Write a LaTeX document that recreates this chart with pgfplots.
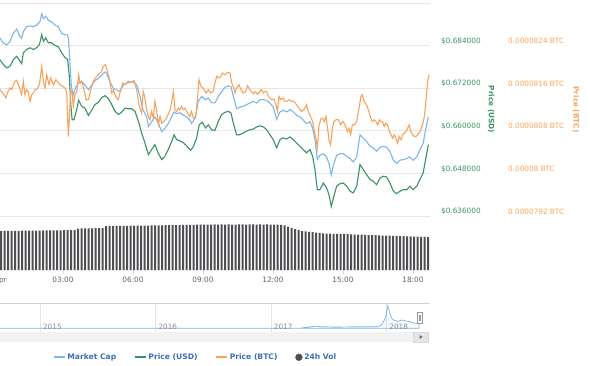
\documentclass[border=0pt]{standalone}
\usepackage{fontspec}
\setmainfont{DejaVu Sans}
\usepackage{pgfplots}
\pgfplotsset{compat=1.18}
\definecolor{mcblue}{HTML}{7CB5EC}
\definecolor{usdgreen}{HTML}{3A9262}
\definecolor{btcorange}{HTML}{F7A35C}
\definecolor{volgray}{HTML}{4E4E53}
\definecolor{gridgray}{HTML}{E6E6E6}
\definecolor{labelgray}{HTML}{606060}
\definecolor{yeargray}{HTML}{8A8A8A}
\definecolor{legendblue}{HTML}{3D6DB5}
\definecolor{tickgray}{HTML}{CCD6EB}
\newcommand\tickfont{\fontsize{7.3}{8.5}\selectfont}
\begin{document}
\begin{tikzpicture}[x=1pt,y=1pt]
\useasboundingbox (0,0) rectangle (590,365);

% ---------- volume (24h Vol) with time axis ----------
\begin{axis}[
  at={(0pt,95pt)}, anchor=south west, scale only axis,
  width=430pt, height=267pt,
  xmin=0.3, xmax=18.73, ymin=0, ymax=5874,
  axis line style={draw=none}, ytick=\empty,
  xtick={3,6,9,12,15,18},
  xticklabels={03:00,06:00,09:00,12:00,15:00,18:00},
  xtick pos=left,
  tick align=outside, major tick length=4pt,
  xtick style={draw=tickgray, line width=0.6pt},
  xticklabel style={font=\tickfont, text=labelgray, inner sep=0pt, anchor=north, yshift=-3pt},
  clip=false,
]
\addplot[ybar, bar width=2.0pt, fill=volgray, draw=none] table {
0.35 858
0.50 860
0.65 859
0.80 861
0.95 862
1.10 861
1.25 864
1.40 865
1.55 864
1.70 867
1.85 868
2.00 867
2.15 870
2.30 871
2.45 870
2.60 873
2.75 874
2.90 873
3.05 876
3.20 877
3.35 878
3.50 880
3.65 913
3.80 915
3.95 914
4.10 917
4.25 918
4.40 920
4.55 922
4.70 924
4.85 968
5.00 969
5.15 968
5.30 970
5.45 971
5.60 972
5.75 972
5.90 974
6.05 975
6.20 975
6.35 977
6.50 978
6.65 979
6.80 980
6.95 981
7.10 983
7.25 984
7.40 985
7.55 987
7.70 988
7.85 989
8.00 990
8.15 991
8.30 993
8.45 994
8.60 995
8.75 996
8.90 998
9.05 999
9.20 1000
9.35 1001
9.50 1002
9.65 1001
9.80 1003
9.95 1001
10.10 1002
10.25 1000
10.40 1001
10.55 1003
10.70 1002
10.85 1001
11.00 1002
11.15 1003
11.30 1001
11.45 1002
11.60 1001
11.75 1002
11.90 1001
12.05 1000
12.20 999
12.35 995
12.50 981
12.65 955
12.80 928
12.95 902
13.10 876
13.25 856
13.40 849
13.55 841
13.70 833
13.85 824
14.00 815
14.15 807
14.30 803
14.45 800
14.60 797
14.75 795
14.90 792
15.05 789
15.20 787
15.35 784
15.50 781
15.65 778
15.80 776
15.95 773
16.10 770
16.25 767
16.40 765
16.55 762
16.70 759
16.85 757
17.00 754
17.15 752
17.30 749
17.45 747
17.60 744
17.75 742
17.90 739
18.05 737
18.20 734
18.35 731
18.50 729
18.65 726
};
\node[font=\tickfont, text=labelgray, inner sep=0pt, anchor=north] at (axis cs:0,0) [yshift=-7pt] {14. Apr};
\end{axis}

% ---------- Price (USD) axis: grid, labels, green line ----------
\begin{axis}[
  at={(0pt,149pt)}, anchor=south west, scale only axis,
  width=430pt, height=213pt,
  xmin=0.3, xmax=18.73, ymin=0.636, ymax=0.696,
  xtick=\empty,
  ytick={0.636,0.648,0.660,0.672,0.684,0.696},
  yticklabels={\$0.636000,\$0.648000,\$0.660000,\$0.672000,\$0.684000,},
  ymajorgrids, grid style={gridgray, line width=0.8pt},
  axis line style={draw=none}, major tick length=0pt,
  yticklabel pos=right,
  yticklabel style={font=\tickfont, text=usdgreen, inner sep=0pt, anchor=west, xshift=11pt, yshift=4.5pt},
  ylabel={Price (USD)},
  every axis y label/.style={at={(axis description cs:1.142,0.5)}, anchor=center, rotate=-90, font=\bfseries\tickfont, text=usdgreen},
]
\addplot[usdgreen, line width=1.1pt] table {
0.30 0.6800
0.44 0.6787
0.59 0.6777
0.73 0.6782
0.87 0.6800
1.01 0.6810
1.16 0.6796
1.23 0.6789
1.30 0.6820
1.44 0.6829
1.59 0.6834
1.73 0.6829
1.87 0.6834
1.99 0.6843
2.09 0.6871
2.16 0.6852
2.26 0.6862
2.37 0.6848
2.51 0.6848
2.66 0.6840
2.80 0.6837
2.94 0.6820
3.09 0.6806
3.20 0.6801
3.27 0.6754
3.33 0.6679
3.39 0.6631
3.47 0.6631
3.59 0.6660
3.67 0.6686
3.80 0.6669
3.94 0.6664
4.09 0.6643
4.23 0.6658
4.37 0.6674
4.51 0.6680
4.66 0.6693
4.80 0.6699
4.94 0.6691
5.09 0.6674
5.23 0.6655
5.37 0.6646
5.51 0.6652
5.66 0.6664
5.80 0.6662
5.94 0.6662
6.09 0.6655
6.23 0.6627
6.37 0.6594
6.51 0.6566
6.66 0.6533
6.80 0.6547
6.94 0.6561
7.09 0.6536
7.23 0.6519
7.37 0.6528
7.51 0.6547
7.66 0.6570
7.76 0.6589
7.87 0.6575
8.01 0.6572
8.16 0.6566
8.30 0.6558
8.47 0.6545
8.59 0.6556
8.73 0.6580
8.84 0.6617
8.97 0.6624
9.11 0.6608
9.23 0.6617
9.37 0.6603
9.51 0.6601
9.66 0.6627
9.80 0.6646
9.94 0.6652
10.09 0.6655
10.20 0.6650
10.30 0.6622
10.44 0.6589
10.59 0.6589
10.73 0.6594
10.87 0.6599
11.01 0.6603
11.16 0.6605
11.30 0.6611
11.44 0.6614
11.59 0.6611
11.73 0.6603
11.87 0.6589
12.01 0.6575
12.16 0.6552
12.30 0.6575
12.44 0.6580
12.59 0.6577
12.73 0.6583
12.87 0.6575
13.01 0.6566
13.16 0.6556
13.30 0.6547
13.44 0.6538
13.59 0.6547
13.70 0.6528
13.80 0.6491
13.90 0.6434
14.01 0.6434
14.16 0.6453
14.30 0.6439
14.40 0.6420
14.50 0.6387
14.59 0.6411
14.73 0.6444
14.87 0.6451
15.01 0.6453
15.16 0.6444
15.30 0.6430
15.44 0.6425
15.59 0.6444
15.73 0.6505
15.87 0.6491
16.01 0.6477
16.16 0.6463
16.30 0.6458
16.44 0.6448
16.59 0.6467
16.73 0.6472
16.87 0.6470
17.01 0.6453
17.16 0.6430
17.30 0.6423
17.44 0.6430
17.59 0.6434
17.73 0.6434
17.87 0.6444
18.01 0.6434
18.16 0.6444
18.30 0.6463
18.44 0.6482
18.54 0.6519
18.66 0.6561
};
\end{axis}

% ---------- Market Cap (hidden axis, billions USD) ----------
\begin{axis}[
  at={(0pt,149pt)}, anchor=south west, scale only axis,
  width=430pt, height=213pt,
  xmin=0.3, xmax=18.73, ymin=24.4, ymax=27.0,
  hide axis,
]
\addplot[mcblue, line width=1.1pt] table {
0.30 26.57
0.44 26.51
0.59 26.49
0.73 26.53
0.87 26.63
1.01 26.68
1.16 26.59
1.23 26.57
1.30 26.65
1.44 26.71
1.59 26.72
1.73 26.71
1.87 26.73
2.01 26.77
2.09 26.87
2.16 26.81
2.26 26.84
2.37 26.79
2.51 26.77
2.66 26.73
2.80 26.71
2.94 26.63
3.09 26.61
3.20 26.61
3.24 26.55
3.30 26.26
3.36 25.98
3.44 25.88
3.56 25.98
3.66 26.02
3.80 26.04
3.94 26.00
4.09 25.94
4.23 26.00
4.37 26.05
4.51 26.08
4.66 26.12
4.80 26.16
4.87 26.14
5.01 26.04
5.16 25.96
5.30 25.94
5.44 25.92
5.59 26.00
5.73 26.02
5.87 26.03
6.01 26.04
6.16 26.00
6.30 25.86
6.44 25.69
6.59 25.61
6.66 25.49
6.80 25.55
6.94 25.61
7.09 25.53
7.23 25.43
7.37 25.47
7.51 25.53
7.66 25.61
7.76 25.67
7.87 25.65
8.01 25.66
8.16 25.63
8.30 25.61
8.44 25.57
8.51 25.53
8.66 25.59
8.80 25.80
8.94 25.86
9.09 25.82
9.23 25.84
9.37 25.78
9.51 25.78
9.66 25.86
9.80 25.92
9.94 25.97
10.09 25.99
10.20 25.98
10.30 25.86
10.44 25.71
10.59 25.73
10.73 25.74
10.87 25.76
11.01 25.78
11.16 25.80
11.30 25.78
11.44 25.82
11.59 25.82
11.73 25.81
11.87 25.78
12.01 25.73
12.16 25.58
12.30 25.67
12.44 25.69
12.59 25.67
12.73 25.70
12.87 25.67
13.01 25.63
13.16 25.61
13.30 25.57
13.44 25.53
13.59 25.55
13.70 25.47
13.80 25.33
13.90 25.09
14.01 25.14
14.16 25.16
14.30 25.12
14.40 25.04
14.50 24.90
14.59 25.02
14.73 25.14
14.87 25.16
15.01 25.16
15.16 25.13
15.30 25.10
15.44 25.06
15.59 25.12
15.73 25.39
15.87 25.35
16.01 25.31
16.16 25.25
16.30 25.23
16.44 25.19
16.59 25.24
16.73 25.25
16.87 25.24
17.01 25.19
17.16 25.08
17.30 25.04
17.44 25.08
17.59 25.09
17.73 25.10
17.87 25.12
18.01 25.08
18.16 25.12
18.30 25.21
18.44 25.29
18.54 25.45
18.66 25.61
};
\end{axis}

% ---------- Price (BTC) axis ----------
\begin{axis}[
  at={(0pt,149pt)}, anchor=south west, scale only axis,
  width=430pt, height=213pt,
  xmin=0.3, xmax=18.73, ymin=7.92e-5, ymax=8.32e-5,
  xtick=\empty,
  ytick={7.92e-5,8.00e-5,8.08e-5,8.16e-5,8.24e-5},
  yticklabels={0.0000792 BTC,0.00008 BTC,0.0000808 BTC,0.0000816 BTC,0.0000824 BTC},
  axis line style={draw=none}, major tick length=0pt,
  yticklabel pos=right,
  yticklabel style={font=\tickfont, text=btcorange, inner sep=0pt, anchor=west, xshift=78pt, yshift=4.5pt},
  ylabel={Price (BTC)},
  every axis y label/.style={at={(axis description cs:1.3395,0.5)}, anchor=center, rotate=-90, font=\bfseries\tickfont, text=btcorange},
]
\addplot[btcorange, line width=1.1pt] table {
0.30 8.1572e-5
0.37 8.1540e-5
0.47 8.1478e-5
0.56 8.1415e-5
0.61 8.1509e-5
0.73 8.1603e-5
0.80 8.1572e-5
0.87 8.1666e-5
0.94 8.1729e-5
1.01 8.1747e-5
1.09 8.1666e-5
1.16 8.1572e-5
1.23 8.1478e-5
1.30 8.1729e-5
1.37 8.1478e-5
1.44 8.1572e-5
1.51 8.1540e-5
1.59 8.1352e-5
1.66 8.1478e-5
1.73 8.1509e-5
1.80 8.1572e-5
1.87 8.1572e-5
1.99 8.1666e-5
2.09 8.2011e-5
2.16 8.1729e-5
2.23 8.1603e-5
2.30 8.1854e-5
2.40 8.1666e-5
2.47 8.1791e-5
2.59 8.1666e-5
2.70 8.1760e-5
2.80 8.1697e-5
2.87 8.1666e-5
2.99 8.1634e-5
3.09 8.1603e-5
3.16 8.1509e-5
3.23 8.0693e-5
3.27 8.1007e-5
3.33 8.1572e-5
3.39 8.1509e-5
3.44 8.1258e-5
3.51 8.1478e-5
3.59 8.1540e-5
3.67 8.1854e-5
3.73 8.1697e-5
3.80 8.1729e-5
3.90 8.1572e-5
3.99 8.1383e-5
4.09 8.1383e-5
4.19 8.1572e-5
4.30 8.1729e-5
4.44 8.1823e-5
4.59 8.1885e-5
4.66 8.1917e-5
4.73 8.2011e-5
4.80 8.2042e-5
4.87 8.1979e-5
4.94 8.1854e-5
5.01 8.1729e-5
5.09 8.1509e-5
5.16 8.1572e-5
5.23 8.1478e-5
5.30 8.1415e-5
5.37 8.1383e-5
5.44 8.1509e-5
5.56 8.1697e-5
5.66 8.1666e-5
5.80 8.1729e-5
5.94 8.1710e-5
6.04 8.1747e-5
6.16 8.1572e-5
6.27 8.1258e-5
6.37 8.1132e-5
6.44 8.1540e-5
6.51 8.1415e-5
6.59 8.1195e-5
6.66 8.1070e-5
6.73 8.1007e-5
6.80 8.1164e-5
6.87 8.1038e-5
6.94 8.1352e-5
7.01 8.1195e-5
7.09 8.0913e-5
7.16 8.1070e-5
7.23 8.0944e-5
7.33 8.0976e-5
7.44 8.1038e-5
7.59 8.1195e-5
7.66 8.1352e-5
7.73 8.1540e-5
7.80 8.1195e-5
7.87 8.1164e-5
7.94 8.1227e-5
8.01 8.1195e-5
8.09 8.1258e-5
8.16 8.1195e-5
8.23 8.1227e-5
8.30 8.1164e-5
8.37 8.1101e-5
8.44 8.1070e-5
8.51 8.1164e-5
8.59 8.1038e-5
8.69 8.1070e-5
8.76 8.1383e-5
8.83 8.1760e-5
8.91 8.1634e-5
9.01 8.1603e-5
9.13 8.1509e-5
9.23 8.1572e-5
9.33 8.1509e-5
9.44 8.1540e-5
9.51 8.1697e-5
9.59 8.1823e-5
9.69 8.1791e-5
9.77 8.1823e-5
9.83 8.1885e-5
9.94 8.1854e-5
10.06 8.1898e-5
10.16 8.1885e-5
10.23 8.1697e-5
10.30 8.1634e-5
10.37 8.1509e-5
10.44 8.1603e-5
10.54 8.1666e-5
10.63 8.1572e-5
10.73 8.1509e-5
10.83 8.1540e-5
10.91 8.1647e-5
10.99 8.1584e-5
11.09 8.1522e-5
11.16 8.1496e-5
11.23 8.1534e-5
11.34 8.1490e-5
11.44 8.1540e-5
11.51 8.1572e-5
11.59 8.1509e-5
11.66 8.1540e-5
11.73 8.1540e-5
11.80 8.1446e-5
11.87 8.1415e-5
11.94 8.1384e-5
12.04 8.1396e-5
12.13 8.1290e-5
12.19 8.1164e-5
12.26 8.1446e-5
12.33 8.1384e-5
12.44 8.1415e-5
12.51 8.1352e-5
12.59 8.1352e-5
12.69 8.1384e-5
12.80 8.1352e-5
12.90 8.1352e-5
13.01 8.1289e-5
13.11 8.1227e-5
13.23 8.1164e-5
13.30 8.1195e-5
13.37 8.1227e-5
13.44 8.1289e-5
13.51 8.1164e-5
13.61 8.1070e-5
13.70 8.0976e-5
13.76 8.0819e-5
13.84 8.0662e-5
13.90 8.0474e-5
13.97 8.0882e-5
14.06 8.1038e-5
14.13 8.1038e-5
14.20 8.0976e-5
14.27 8.1070e-5
14.33 8.0882e-5
14.40 8.0631e-5
14.47 8.0536e-5
14.54 8.0819e-5
14.61 8.0976e-5
14.70 8.1007e-5
14.80 8.1007e-5
14.90 8.0913e-5
14.99 8.0976e-5
15.09 8.0913e-5
15.19 8.0787e-5
15.26 8.0850e-5
15.33 8.0725e-5
15.40 8.0913e-5
15.49 8.0913e-5
15.59 8.0976e-5
15.69 8.1227e-5
15.77 8.1446e-5
15.83 8.1478e-5
15.90 8.1352e-5
15.97 8.1321e-5
16.04 8.1258e-5
16.11 8.1164e-5
16.19 8.1038e-5
16.26 8.0976e-5
16.34 8.1007e-5
16.41 8.0976e-5
16.49 8.0913e-5
16.56 8.1007e-5
16.63 8.0976e-5
16.70 8.0976e-5
16.77 8.0882e-5
16.84 8.0944e-5
16.91 8.0913e-5
16.99 8.0787e-5
17.06 8.0725e-5
17.13 8.0662e-5
17.19 8.0725e-5
17.26 8.0662e-5
17.34 8.0568e-5
17.41 8.0693e-5
17.49 8.0631e-5
17.56 8.0725e-5
17.63 8.0756e-5
17.70 8.0787e-5
17.77 8.0850e-5
17.84 8.0913e-5
17.91 8.0787e-5
17.99 8.0725e-5
18.06 8.0693e-5
18.13 8.0693e-5
18.20 8.0725e-5
18.27 8.0756e-5
18.34 8.0819e-5
18.41 8.0913e-5
18.49 8.1070e-5
18.56 8.1384e-5
18.63 8.1729e-5
18.69 8.1854e-5
};
\end{axis}

% ---------- navigator ----------
\fill[black!5] (0,23) rectangle (413,33);
\draw[black!15, fill=black!10] (413,23) rectangle (428,33);
\fill[black!60] (419.5,26) -- (422.5,28) -- (419.5,30) -- cycle;
\begin{axis}[
  at={(0pt,33pt)}, anchor=south west, scale only axis,
  width=419pt, height=29pt,
  xmin=2014.65, xmax=2018.28, ymin=-21, ymax=145.75,
  xtick={2015,2016,2017,2018}, xticklabels={},
  xmajorgrids, grid style={gridgray, line width=0.8pt},
  ytick=\empty, axis line style={draw=none}, major tick length=0pt,
  clip=false,
  legend style={at={(0.4666,-0.872)}, anchor=center, draw=none, fill=none,
    legend columns=-1, font=\bfseries\fontsize{7.6}{9}\selectfont, text=legendblue,
    /tikz/every even column/.append style={column sep=16pt},
    nodes={inner sep=1.8pt}},
  legend cell align=left,
]
\addplot[mcblue, line width=0.7pt, fill=mcblue, fill opacity=0.06, forget plot] table {
2014.65 0.4
2014.80 0.3
2015.00 0.25
2015.25 0.3
2015.50 0.3
2015.75 0.2
2016.00 0.2
2016.25 0.25
2016.50 0.25
2016.75 0.3
2017.00 0.25
2017.15 0.35
2017.25 1.2
2017.33 8
2017.38 13
2017.42 10
2017.46 9
2017.55 8
2017.65 8.5
2017.75 9
2017.85 9
2017.91 10
2017.94 14
2017.96 25
2017.99 60
2018.01 130
2018.03 80
2018.05 50
2018.08 44
2018.10 40
2018.13 48
2018.16 44
2018.20 38
2018.24 30
2018.28 26
} \closedcycle;
\foreach \yr in {2015,2016,2017,2018} {
  \edef\tmp{\noexpand\node[anchor=south west, inner sep=0pt, font=\noexpand\tickfont, text=yeargray] at (axis cs:\yr,-21) [xshift=2.5pt, yshift=2.5pt] {\yr};}
  \tmp
}
\addlegendimage{legend image code/.code={\draw[mcblue, line width=1.6pt] (0pt,0pt) -- (11pt,0pt);}}
\addlegendentry{Market Cap}
\addlegendimage{legend image code/.code={\draw[usdgreen, line width=1.6pt] (0pt,0pt) -- (11pt,0pt);}}
\addlegendentry{Price (USD)}
\addlegendimage{legend image code/.code={\draw[btcorange, line width=1.6pt] (0pt,0pt) -- (11pt,0pt);}}
\addlegendentry{Price (BTC)}
\addlegendimage{legend image code/.code={\fill[volgray] (5.5pt,0pt) circle (3.4pt);}}
\addlegendentry{24h Vol}
\end{axis}
\draw[black!18, line width=0.6pt] (0,62) -- (430,62);
\draw[black!40, fill=white] (417,41.7) rectangle (422.5,53.3);
\draw[black!40] (419,44.5) -- (419,50.5) (420.5,44.5) -- (420.5,50.5);
\end{tikzpicture}
\end{document}
